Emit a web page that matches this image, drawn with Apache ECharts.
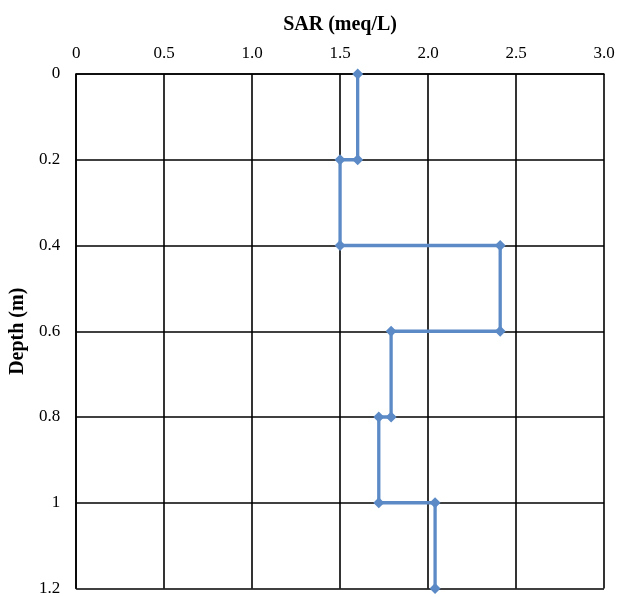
<!DOCTYPE html>
<html>
<head>
<meta charset="utf-8">
<script src="https://cdn.jsdelivr.net/npm/echarts@6/dist/echarts.min.js"></script>
<style>html,body{margin:0;padding:0;background:#fff;}#c{width:619px;height:597px;}</style>
</head>
<body>
<div id="c"></div>
<script>
const sarValues = [1.6, 1.6, 1.5, 1.5, 2.41, 2.41, 1.79, 1.79, 1.72, 1.72, 2.04, 2.04];
const depthValues = [0, 0.2, 0.2, 0.4, 0.4, 0.6, 0.6, 0.8, 0.8, 1.0, 1.0, 1.2];
const xTitle = 'SAR (meq/L)';
const yTitle = 'Depth (m)';

const chart = echarts.init(document.getElementById('c'), null, {renderer: 'canvas'});
const font = 'Liberation Serif';
chart.setOption({
  animation: false,
  backgroundColor: '#fff',
  grid: {left: 76, right: 15, top: 74, bottom: 3},
  xAxis: {
    type: 'value', position: 'top', min: 0, max: 3, interval: 0.5,
    name: xTitle, nameLocation: 'middle', nameGap: 39,
    nameTextStyle: {fontFamily: font, fontWeight: 'bold', fontSize: 20, color: '#000'},
    axisLine: {show: true, lineStyle: {color: '#000', width: 1.6}},
    axisTick: {show: false},
    axisLabel: {margin: 12, fontFamily: font, fontSize: 17, color: '#000',
      formatter: v => v === 0 ? '0' : v.toFixed(1)},
    splitLine: {show: true, lineStyle: {color: '#000', width: 1.6}}
  },
  yAxis: {
    type: 'value', inverse: true, min: 0, max: 1.2, interval: 0.2,
    name: yTitle, nameLocation: 'middle', nameGap: 48, nameRotate: 90,
    nameTextStyle: {fontFamily: font, fontWeight: 'bold', fontSize: 20, color: '#000'},
    axisLine: {show: true, lineStyle: {color: '#000', width: 1.6}},
    axisTick: {show: false},
    axisLabel: {margin: 16, fontFamily: font, fontSize: 17, color: '#000'},
    splitLine: {show: true, lineStyle: {color: '#000', width: 1.6}}
  },
  series: [{
    type: 'line',
    data: sarValues.map((v, i) => [v, depthValues[i]]),
    symbol: 'diamond', symbolSize: 11,
    lineStyle: {color: '#5b8ac6', width: 3.3},
    itemStyle: {color: '#5b8ac6'},
    clip: false
  }]
});
</script>
</body>
</html>
